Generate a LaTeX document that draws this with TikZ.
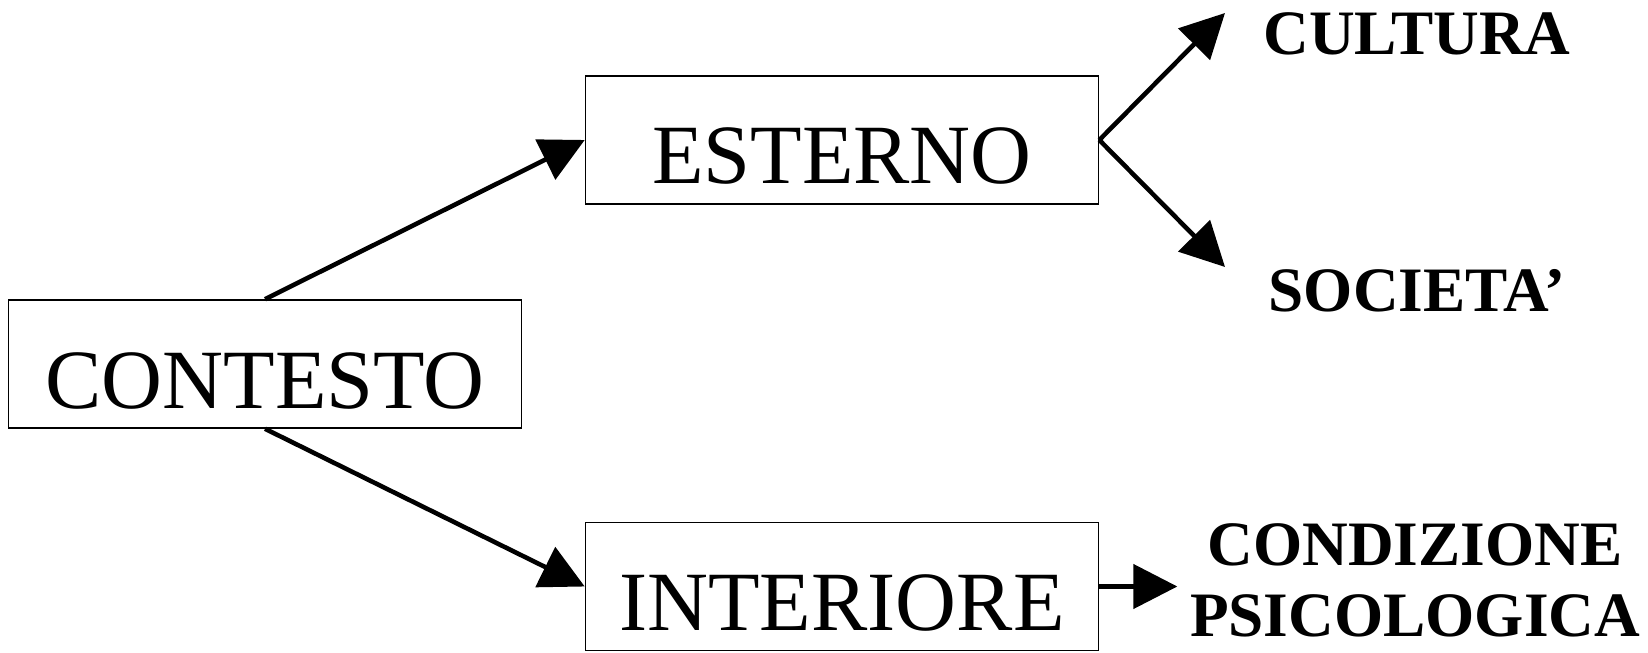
\documentclass[tikz,border=0pt]{standalone}
\usepackage{fontspec}
\setmainfont{Liberation Serif}
\usetikzlibrary{arrows.meta}

\begin{document}
\begin{tikzpicture}[box/.style={draw,line width=0.45pt,inner sep=0pt,minimum width=5.13cm,
    text height=1.08cm,text depth=0.2cm,font=\fontsize{24}{28}\selectfont},
  lab/.style={font=\fontsize{18}{20}\selectfont\bfseries,align=center,inner sep=0pt},
  arr/.style={line width=1.3pt,-{Triangle[length=0.44cm,width=0.44cm]}}]
\useasboundingbox (0,0) rectangle (16.48,6.52);
\node [box] (a) at (2.65,2.88) {CONTESTO};
\node [box] (b) at (8.42,5.12) {ESTERNO};
\node [box] (c) at (8.42,0.655) {INTERIORE};
% labels on the right
\node [lab,anchor=base] (d) at (14.17,5.97) {CULTURA};
\node [lab,anchor=base] (e) at (14.17,3.40) {SOCIETA’};
\node [lab,anchor=base] (f) at (14.15,0.16) {CONDIZIONE\\PSICOLOGICA};
\coordinate (d1) at (12.25,6.39);
\coordinate (e1) at (12.25,3.85);
% arrows
\draw [arr] (a.north) -- (b.west);
\draw [arr] (a.south) -- (c.west);
\draw [arr] (b.east) -- (d1);
\draw [arr] (b.east) -- (e1);
\draw [arr,shorten >=0.12cm] (c.east) -- (c.east -| f.west);
\end{tikzpicture}
\end{document}
